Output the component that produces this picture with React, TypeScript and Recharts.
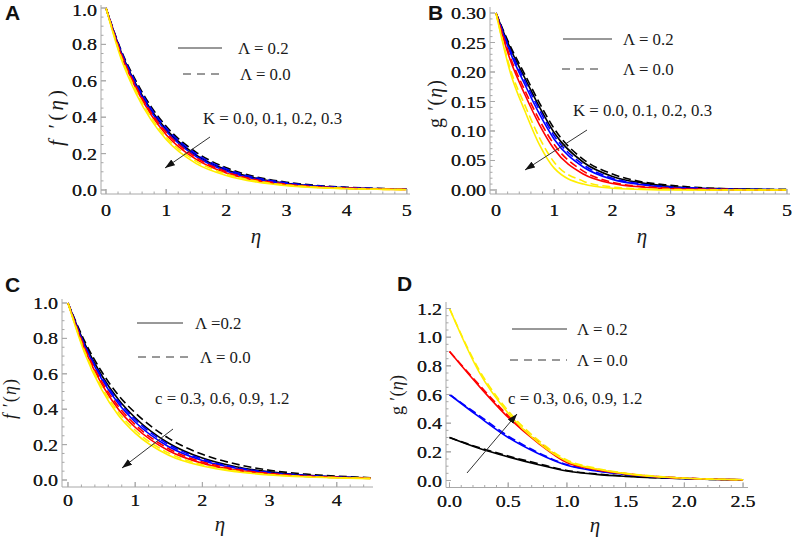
import React from 'react';
import { LineChart, Line, XAxis, YAxis } from 'recharts';

// eta grid used in panels A and B
const etaK = [0, 0.25, 0.5, 0.75, 1, 1.5, 2, 2.5, 3, 3.5, 4, 4.5, 5];
// eta grid used in panel C
const etaC = [0, 0.25, 0.5, 0.75, 1, 1.5, 2, 2.5, 3, 3.5, 4, 4.5];
// eta grid used in panel D
const etaD = [0, 0.25, 0.5, 0.75, 1, 1.25, 1.5, 1.75, 2, 2.25, 2.5];

// A: f'(eta) for K = 0.0, 0.1, 0.2, 0.3 (solid Λ = 0.2, dashed Λ = 0.0)
const fK00s = [1, 0.760, 0.580, 0.440, 0.333, 0.192, 0.111, 0.064, 0.037, 0.021, 0.012, 0.007, 0.004];
const fK00d = [1, 0.769, 0.598, 0.458, 0.350, 0.207, 0.122, 0.072, 0.043, 0.025, 0.015, 0.009, 0.005];
const fK01s = [1, 0.754, 0.572, 0.430, 0.323, 0.184, 0.104, 0.059, 0.034, 0.019, 0.011, 0.006, 0.004];
const fK01d = [1, 0.763, 0.588, 0.447, 0.340, 0.198, 0.115, 0.067, 0.039, 0.023, 0.013, 0.008, 0.005];
const fK02s = [1, 0.743, 0.557, 0.413, 0.304, 0.168, 0.093, 0.051, 0.028, 0.016, 0.009, 0.005, 0.003];
const fK02d = [1, 0.750, 0.567, 0.424, 0.317, 0.178, 0.100, 0.056, 0.032, 0.018, 0.010, 0.006, 0.003];
const fK03s = [1, 0.723, 0.530, 0.385, 0.277, 0.145, 0.080, 0.044, 0.024, 0.013, 0.007, 0.004, 0.002];
const fK03d = [1, 0.733, 0.545, 0.399, 0.291, 0.158, 0.088, 0.049, 0.027, 0.015, 0.008, 0.004, 0.002];

// B: g'(eta) for K = 0.0, 0.1, 0.2, 0.3
const gK00s = [0.300, 0.239, 0.189, 0.140, 0.097, 0.047, 0.023, 0.012, 0.006, 0.003, 0.002, 0.001, 0.000];
const gK00d = [0.300, 0.243, 0.195, 0.147, 0.104, 0.052, 0.027, 0.014, 0.008, 0.004, 0.002, 0.001, 0.001];
const gK01s = [0.300, 0.232, 0.178, 0.128, 0.086, 0.039, 0.018, 0.009, 0.004, 0.002, 0.001, 0.000, 0.000];
const gK01d = [0.300, 0.236, 0.184, 0.135, 0.092, 0.043, 0.020, 0.010, 0.005, 0.003, 0.001, 0.001, 0.000];
const gK02s = [0.300, 0.219, 0.161, 0.110, 0.069, 0.027, 0.011, 0.005, 0.002, 0.001, 0.000, 0.000, 0.000];
const gK02d = [0.300, 0.224, 0.168, 0.118, 0.077, 0.032, 0.013, 0.006, 0.003, 0.001, 0.001, 0.000, 0.000];
const gK03s = [0.300, 0.198, 0.133, 0.076, 0.037, 0.010, 0.003, 0.001, 0.000, 0.000, 0.000, 0.000, 0.000];
const gK03d = [0.300, 0.204, 0.143, 0.088, 0.047, 0.015, 0.005, 0.002, 0.001, 0.000, 0.000, 0.000, 0.000];

// C: f'(eta) for c = 0.3, 0.6, 0.9, 1.2
const fc03s = [1, 0.769, 0.592, 0.455, 0.352, 0.208, 0.124, 0.075, 0.046, 0.028, 0.018, 0.011];
const fc03d = [1, 0.783, 0.613, 0.479, 0.380, 0.235, 0.145, 0.090, 0.055, 0.035, 0.022, 0.013];
const fc06s = [1, 0.756, 0.571, 0.432, 0.328, 0.188, 0.110, 0.066, 0.040, 0.025, 0.016, 0.010];
const fc06d = [1, 0.763, 0.583, 0.445, 0.342, 0.200, 0.118, 0.071, 0.043, 0.027, 0.017, 0.011];
const fc09s = [1, 0.737, 0.543, 0.400, 0.298, 0.165, 0.094, 0.056, 0.034, 0.021, 0.014, 0.009];
const fc09d = [1, 0.746, 0.557, 0.416, 0.313, 0.177, 0.102, 0.061, 0.037, 0.023, 0.015, 0.010];
const fc12s = [1, 0.715, 0.512, 0.366, 0.265, 0.140, 0.079, 0.047, 0.029, 0.018, 0.012, 0.008];
const fc12d = [1, 0.726, 0.527, 0.383, 0.281, 0.152, 0.086, 0.051, 0.031, 0.020, 0.013, 0.009];

// D: g'(eta) for c = 0.3, 0.6, 0.9, 1.2
const gc03s = [0.300, 0.225, 0.165, 0.112, 0.066, 0.043, 0.029, 0.019, 0.012, 0.007, 0.004];
const gc03d = [0.300, 0.230, 0.171, 0.119, 0.070, 0.046, 0.031, 0.020, 0.013, 0.007, 0.004];
const gc06s = [0.600, 0.445, 0.300, 0.190, 0.106, 0.066, 0.042, 0.025, 0.015, 0.009, 0.005];
const gc06d = [0.600, 0.455, 0.310, 0.197, 0.111, 0.069, 0.044, 0.026, 0.016, 0.009, 0.005];
const gc09s = [0.900, 0.660, 0.440, 0.265, 0.125, 0.075, 0.046, 0.027, 0.016, 0.009, 0.005];
const gc09d = [0.900, 0.670, 0.452, 0.275, 0.132, 0.079, 0.048, 0.028, 0.017, 0.009, 0.005];
const gc12s = [1.200, 0.760, 0.470, 0.270, 0.135, 0.080, 0.048, 0.028, 0.016, 0.009, 0.005];
const gc12d = [1.200, 0.775, 0.485, 0.285, 0.143, 0.085, 0.051, 0.030, 0.017, 0.010, 0.005];

// tick labels
const ticksX5 = [0, 1, 2, 3, 4, 5];
const ticksX4 = [0, 1, 2, 3, 4];
const ticksXD = [0, 0.5, 1, 1.5, 2, 2.5];
const ticksYf = [0, 0.2, 0.4, 0.6, 0.8, 1.0];
const ticksYg = [0, 0.05, 0.1, 0.15, 0.2, 0.25, 0.3];
const ticksYD = [0, 0.2, 0.4, 0.6, 0.8, 1.0, 1.2];

const COLORS = ['#000000', '#0000ff', '#ff0000', '#ffee00'];
const FRAME = '#a8a8a8';
const SERIF = '"Liberation Serif", "Times New Roman", serif';
const YW = 60;
const XH = 34;
const PADT = 12;
const PADR = 16;

function steps(from: number, to: number, step: number) {
  const out: number[] = [];
  for (let v = from; v <= to + 1e-9; v += step) out.push(Math.round(v * 1000) / 1000);
  return out;
}

function buildRows(eta: number[], series: number[][]) {
  return eta.map((e, i) => {
    const row: Record<string, number> = { eta: e };
    series.forEach((s, j) => {
      row['s' + j] = s[i];
    });
    return row;
  });
}

function FrameTick(props: any) {
  const { x, y, payload, side, majors, fmt, gap, top } = props;
  const v = payload.value;
  const major = majors.some((m: number) => Math.abs(m - v) < 1e-6);
  const len = major ? 5 : 2.5;
  let line = null;
  let label = null;
  if (side === 'bottom') {
    line = <line x1={x} y1={y} x2={x} y2={y - len} stroke={FRAME} />;
    if (major && fmt)
      label = (
        <text transform={`translate(${x},${y + gap + 6}) scale(1.18,1)`} textAnchor="middle" fontFamily={SERIF} fontSize={17} fill="#1a1a1a">
          {fmt(v)}
        </text>
      );
  } else if (side === 'top') {
    line = <line x1={x} y1={y} x2={x} y2={y + len} stroke={FRAME} />;
  } else if (side === 'left') {
    line = <line x1={x} y1={y} x2={x + len} y2={y} stroke={FRAME} />;
    // keep the top label inside the page
    const ly = Math.max(y, top ?? -1e9);
    if (major && fmt)
      label = (
        <text transform={`translate(${x - 4},${ly + 6}) scale(1.18,1)`} textAnchor="end" fontFamily={SERIF} fontSize={17} fill="#1a1a1a">
          {fmt(v)}
        </text>
      );
  } else {
    line = <line x1={x} y1={y} x2={x - len} y2={y} stroke={FRAME} />;
  }
  return (
    <g>
      {line}
      {label}
    </g>
  );
}

type PanelDef = {
  rows: Record<string, number>[];
  frame: { l: number; t: number; r: number; b: number };
  xDomain: [number, number];
  yDomain: [number, number];
  xMajor: number[];
  xMinor: number[];
  yMajor: number[];
  yMinor: number[];
  xFmt: (v: number) => string;
  yFmt: (v: number) => string;
  gap: number;
};

function Panel({ p }: { p: PanelDef }) {
  const w = p.frame.r - p.frame.l;
  const h = p.frame.b - p.frame.t;
  const xTicks = [...p.xMajor, ...p.xMinor];
  const yTicks = [...p.yMajor, ...p.yMinor];
  const axisLine = { stroke: FRAME };
  // minimum label centre, in chart pixels, so labels stay below page top
  const labelTop = 10 - (p.frame.t - PADT);
  const lines = [];
  for (let k = 0; k < 4; k++) {
    for (let d = 0; d < 2; d++) {
      const key = 's' + (k * 2 + d);
      lines.push(
        <Line
          key={key}
          xAxisId="b"
          yAxisId="l"
          type="monotone"
          dataKey={key}
          stroke={COLORS[k]}
          strokeWidth={1.6}
          strokeDasharray={d === 1 ? '8 4' : undefined}
          dot={false}
          activeDot={false}
          isAnimationActive={false}
        />
      );
    }
  }
  return (
    <div style={{ position: 'absolute', left: p.frame.l - YW, top: p.frame.t - PADT }}>
      <LineChart
        width={w + YW + PADR}
        height={h + XH + PADT}
        data={p.rows}
        margin={{ top: PADT, right: PADR, left: 0, bottom: 0 }}
      >
        <XAxis
          xAxisId="b"
          dataKey="eta"
          type="number"
          domain={p.xDomain}
          allowDataOverflow
          ticks={xTicks}
          interval={0}
          height={XH}
          tickSize={0}
          tickMargin={0}
          tickLine={false}
          axisLine={axisLine}
          tick={(t: any) => <FrameTick {...t} side="bottom" majors={p.xMajor} fmt={p.xFmt} gap={p.gap} />}
        />
        <XAxis
          xAxisId="t"
          orientation="top"
          dataKey="eta"
          type="number"
          domain={p.xDomain}
          allowDataOverflow
          ticks={xTicks}
          interval={0}
          height={0}
          tickSize={0}
          tickMargin={0}
          tickLine={false}
          axisLine={axisLine}
          tick={(t: any) => <FrameTick {...t} side="top" majors={p.xMajor} />}
        />
        <YAxis
          yAxisId="l"
          type="number"
          domain={p.yDomain}
          allowDataOverflow
          ticks={yTicks}
          interval={0}
          width={YW}
          tickSize={0}
          tickMargin={0}
          tickLine={false}
          axisLine={axisLine}
          tick={(t: any) => <FrameTick {...t} side="left" majors={p.yMajor} fmt={p.yFmt} top={labelTop} />}
        />
        <YAxis
          yAxisId="r"
          orientation="right"
          type="number"
          domain={p.yDomain}
          allowDataOverflow
          ticks={yTicks}
          interval={0}
          width={0}
          tickSize={0}
          tickMargin={0}
          tickLine={false}
          axisLine={axisLine}
          tick={(t: any) => <FrameTick {...t} side="right" majors={p.yMajor} />}
        />
        {lines}
      </LineChart>
    </div>
  );
}

const int = (v: number) => String(Math.round(v));
const one = (v: number) => v.toFixed(1);
const two = (v: number) => v.toFixed(2);

const panels: PanelDef[] = [
  {
    rows: buildRows(etaK, [fK00s, fK00d, fK01s, fK01d, fK02s, fK02d, fK03s, fK03d]),
    frame: { l: 101, t: 5, r: 410, b: 194 },
    xDomain: [-0.083, 5.052],
    yDomain: [-0.022, 1.0165],
    xMajor: ticksX5,
    xMinor: steps(0, 5, 0.2),
    yMajor: ticksYf,
    yMinor: steps(0, 1, 0.05),
    xFmt: int,
    yFmt: one,
    gap: 16,
  },
  {
    rows: buildRows(etaK, [gK00s, gK00d, gK01s, gK01d, gK02s, gK02d, gK03s, gK03d]),
    frame: { l: 490, t: 7, r: 790, b: 194 },
    xDomain: [-0.103, 5.052],
    yDomain: [-0.0068, 0.3102],
    xMajor: ticksX5,
    xMinor: steps(0, 5, 0.2),
    yMajor: ticksYg,
    yMinor: steps(0, 0.3, 0.01),
    xFmt: int,
    yFmt: two,
    gap: 16,
  },
  {
    rows: buildRows(etaC, [fc03s, fc03d, fc06s, fc06d, fc09s, fc09d, fc12s, fc12d]),
    frame: { l: 62, t: 299, r: 373, b: 487 },
    xDomain: [-0.089, 4.539],
    yDomain: [-0.0395, 1.0226],
    xMajor: ticksX4,
    xMinor: steps(0, 4.4, 0.2),
    yMajor: ticksYf,
    yMinor: steps(0, 1, 0.05),
    xFmt: int,
    yFmt: one,
    gap: 13,
  },
  {
    rows: buildRows(etaD, [gc03s, gc03d, gc06s, gc06d, gc09s, gc09d, gc12s, gc12d]),
    frame: { l: 446, t: 301.5, r: 748, b: 487 },
    xDomain: [-0.0298, 2.542],
    yDomain: [-0.0488, 1.2454],
    xMajor: ticksXD,
    xMinor: steps(0, 2.5, 0.1),
    yMajor: ticksYD,
    yMinor: steps(0, 1.2, 0.05),
    xFmt: one,
    yFmt: one,
    gap: 13,
  },
];

function YTitle({ cx, cy, letter, italicLetter, size, len }: any) {
  return (
    <text
      transform={`translate(${cx + size * 0.3},${cy}) rotate(-90)`}
      textAnchor="middle"
      fontFamily={SERIF}
      fontSize={size}
      fill="#1a1a1a"
      textLength={len}
      lengthAdjust="spacing"
    >
      <tspan fontStyle={italicLetter ? 'italic' : 'normal'}>{letter}</tspan>
      <tspan>{' \u2032(' }</tspan>
      <tspan fontStyle="italic">η</tspan>
      <tspan>)</tspan>
    </text>
  );
}

function Legend({ sx1, sx2, sy, dx1, dx2, dy, tx1, tx2, t1, t2, ax, ay, at, x1, y1, x2, y2 }: any) {
  const txt = { fontFamily: SERIF, fontSize: 16, fill: '#1a1a1a' };
  return (
    <g>
      <line x1={sx1} y1={sy} x2={sx2} y2={sy} stroke="#333" strokeWidth={1} />
      <line x1={dx1} y1={dy} x2={dx2} y2={dy} stroke="#333" strokeWidth={1} strokeDasharray="8 6" />
      <text transform={`translate(${tx1},${sy + 5.5}) scale(1.05,1)`} {...txt}>{t1}</text>
      <text transform={`translate(${tx2},${dy + 5.5}) scale(1.05,1)`} {...txt}>{t2}</text>
      <text transform={`translate(${ax},${ay + 5.5}) scale(1.05,1)`} {...txt}>{at}</text>
      <line x1={x1} y1={y1} x2={x2} y2={y2} stroke="#333" strokeWidth={1} markerEnd="url(#arrowHead)" />
    </g>
  );
}

export default function App() {
  const letter = { fontFamily: '"Liberation Sans", Arial, sans-serif', fontWeight: 700, fontSize: 21, fill: '#111' };
  const eta = { fontFamily: SERIF, fontSize: 21, fontStyle: 'italic' as const, fill: '#1a1a1a', textAnchor: 'middle' as const };
  return (
    <div style={{ position: 'absolute', left: 0, top: 0, width: 796, height: 544, background: '#fff', overflow: 'hidden' }}>
      {panels.map((p, i) => (
        <Panel key={i} p={p} />
      ))}
      <svg width={796} height={544} style={{ position: 'absolute', left: 0, top: 0, pointerEvents: 'none' }}>
        <defs>
          <marker id="arrowHead" viewBox="0 0 10 7" refX={10} refY={3.5} markerWidth={10} markerHeight={7} markerUnits="userSpaceOnUse" orient="auto">
            <path d="M0,0 L10,3.5 L0,7 z" fill="#111" />
          </marker>
        </defs>
        <text x={5} y={20} {...letter}>A</text>
        <text x={428} y={20} {...letter}>B</text>
        <text x={5} y={292} {...letter}>C</text>
        <text x={397} y={291} {...letter}>D</text>

        <YTitle cx={57} cy={118} letter="f" italicLetter size={21} len={56} />
        <YTitle cx={436} cy={104} letter="g" size={20} len={48} />
        <YTitle cx={11} cy={399} letter="f" italicLetter size={18} len={40} />
        <YTitle cx={398} cy={395} letter="g" size={18} len={40} />

        <text x={256} y={243} {...eta}>η</text>
        <text x={642} y={243} {...eta}>η</text>
        <text x={220} y={531} {...eta}>η</text>
        <text x={595} y={532} {...eta}>η</text>

        <Legend sx1={178} sx2={222} sy={48} dx1={183} dx2={222} dy={74} tx1={238} tx2={240} t1="Λ = 0.2" t2="Λ = 0.0"
          ax={203} ay={118} at="K = 0.0, 0.1, 0.2, 0.3" x1={210} y1={137} x2={165} y2={168} />
        <Legend sx1={563} sx2={612} sy={39} dx1={562} dx2={603} dy={69} tx1={623} tx2={623} t1="Λ = 0.2" t2="Λ = 0.0"
          ax={573} ay={110} at="K = 0.0, 0.1, 0.2, 0.3" x1={587} y1={130} x2={525} y2={170} />
        <Legend sx1={137} sx2={183} sy={323} dx1={138} dx2={190} dy={357} tx1={195} tx2={200} t1="Λ =0.2" t2="Λ = 0.0"
          ax={155} ay={398} at="c = 0.3, 0.6, 0.9, 1.2" x1={173} y1={429} x2={122} y2={468} />
        <Legend sx1={512} sx2={567} sy={329} dx1={510} dx2={567} dy={360} tx1={577} tx2={577} t1="Λ = 0.2" t2="Λ = 0.0"
          ax={508} ay={398} at="c = 0.3, 0.6, 0.9, 1.2" x1={467} y1={473} x2={517} y2={414} />
      </svg>
    </div>
  );
}
